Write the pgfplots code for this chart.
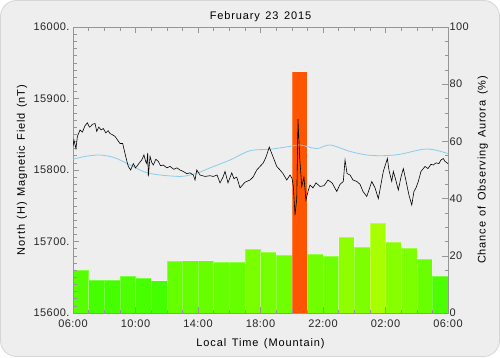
\documentclass[border=0pt]{standalone}
\usepackage{fontspec}
\setmainfont{Liberation Sans}
\newfontfamily\lbl{Liberation Sans}[LetterSpace=8, WordSpace=1.4]
\usepackage{pgfplots}
\pgfplotsset{compat=1.18}
\definecolor{panel}{RGB}{238,238,238}
\definecolor{panelborder}{RGB}{214,214,214}
\definecolor{axgray}{RGB}{150,150,150}
\definecolor{quiet}{RGB}{135,206,235}
\newcommand{\mybar}[3]{\addplot[ybar, bar width=1, bar shift=0, fill={rgb,255:red,#3;green,255;blue,0}, draw=white, draw opacity=0.25, line width=0.4pt] coordinates {(#1,#2)};}
\begin{document}
\begin{tikzpicture}[x=1pt,y=1pt]
\fill[white] (0,0) rectangle (500,357);
\draw[fill=panel, draw=panelborder, line width=0.8pt, rounded corners=16pt] (0.5,0.5) rectangle (499.5,356.5);
\pgfplotsset{
  every axis/.append style={
    font=\fontsize{11}{13}\selectfont,
    /pgf/number format/assume math mode=true,
    axis line style={axgray},
    every tick/.style={axgray, line width=0.5pt},
    tick align=inside,
    major tick length=6pt,
    minor tick length=3.5pt,
    tick label style={text=black!85, font=\fontsize{11}{13}\selectfont\addfontfeature{LetterSpace=4}},
  }
}
% bars: chance of aurora (right axis)
\begin{axis}[
  at={(73pt,44pt)}, anchor=south west, scale only axis,
  width=375pt, height=286pt,
  xmin=0, xmax=24, ymin=0, ymax=100,
  hide x axis,
  axis y line*=right,
  ytick={0,20,40,60,80,100},
  minor ytick={5,10,15,25,30,35,45,50,55,65,70,75,85,90,95},
  yticklabel style={anchor=west, xshift=-2pt},
  ylabel={\lbl Chance of Observing Aurora (\%)},
  every axis y label/.style={at={(axis description cs:1.093,0.5)}, rotate=90, anchor=center},
  clip=true,
]
\mybar{0.5}{15.0}{86}
\mybar{1.5}{11.5}{69}
\mybar{2.5}{11.5}{69}
\mybar{3.5}{13.0}{77}
\mybar{4.5}{12.1}{72}
\mybar{5.5}{11.3}{68}
\mybar{6.5}{18.2}{102}
\mybar{7.5}{18.3}{103}
\mybar{8.5}{18.3}{103}
\mybar{9.5}{17.9}{101}
\mybar{10.5}{17.9}{101}
\mybar{11.5}{22.3}{122}
\mybar{12.5}{21.4}{118}
\mybar{13.5}{20.3}{112}
\addplot[ybar, bar width=1, bar shift=0, fill={rgb,255:red,255;green,85;blue,0}, draw=white, draw opacity=0.25, line width=0.4pt] coordinates {(14.5,84.4)};
\mybar{15.5}{20.5}{113}
\mybar{16.5}{19.9}{111}
\mybar{17.5}{26.6}{143}
\mybar{18.5}{23.0}{126}
\mybar{19.5}{31.5}{167}
\mybar{20.5}{24.8}{135}
\mybar{21.5}{22.6}{124}
\mybar{22.5}{18.9}{106}
\mybar{23.5}{12.9}{76}
\end{axis}
% magnetic field (left axis)
\begin{axis}[
  at={(73pt,44pt)}, anchor=south west, scale only axis,
  width=375pt, height=286pt,
  xmin=0, xmax=24, ymin=15600, ymax=16000,
  scaled y ticks=false,
  axis background/.style={fill=none},
  xtick={0,4,8,12,16,20,24},
  xticklabels={06:00,10:00,14:00,18:00,22:00,02:00,06:00},
  minor xtick={1,2,3,5,6,7,9,10,11,13,14,15,17,18,19,21,22,23},
  xtick pos=both, xticklabel pos=lower,
  xticklabel style={yshift=-3.5pt},
  ytick={15600,15700,15800,15900,16000},
  yticklabels={15600.,15700.,15800.,15900.,16000.},
  minor y tick num=9,
  ytick pos=left,
  xlabel={\lbl Local Time (Mountain)},
  ylabel={\lbl North (H) Magnetic Field (nT)},
  every axis x label/.style={at={(axis description cs:0.5,-0.108)}, anchor=center},
  every axis y label/.style={at={(axis description cs:-0.136,0.5)}, rotate=90, anchor=center},
  title={\lbl February 23 2015},
  every axis title/.style={at={(axis description cs:0.5,1.035)}, anchor=center},
]
\addplot[quiet, line width=0.8pt, smooth] coordinates {
(0,15815) (0.77,15819) (1.73,15821) (2.69,15817) (3.65,15807) (4.61,15797)
(5.57,15793) (6.85,15791) (7.49,15793) (8.13,15797) (8.77,15803) (10.05,15814)
(11.33,15827) (12.61,15829) (13.89,15833) (14.53,15835) (15.60,15830) (16.45,15835)
(17.73,15826) (18.80,15821) (19.84,15820) (20.93,15822) (22.40,15829) (23.17,15828)
(24.00,15823)
};
\addplot[black, line width=0.6pt] coordinates {
(0.00,15833) (0.06,15842) (0.19,15830) (0.28,15847) (0.45,15856) (0.60,15853)
(0.77,15862) (0.92,15866) (1.05,15860) (1.13,15861) (1.25,15864) (1.41,15865)
(1.52,15854) (1.65,15860) (1.80,15856) (1.94,15858) (2.10,15852) (2.25,15855)
(2.37,15851) (2.55,15849) (2.69,15847) (2.85,15842) (3.01,15837) (3.18,15837)
(3.33,15823) (3.45,15812) (3.54,15805) (3.69,15800) (3.86,15809) (4.00,15803)
(4.08,15805) (4.25,15810) (4.40,15814) (4.54,15821) (4.65,15812) (4.72,15809)
(4.78,15824) (4.82,15791) (4.93,15819) (5.05,15810) (5.14,15807) (5.30,15815)
(5.46,15812) (5.60,15806) (5.78,15807) (6.00,15803) (6.21,15805) (6.45,15801)
(6.65,15803) (6.85,15800) (7.05,15798) (7.28,15795) (7.49,15796) (7.70,15793)
(7.81,15786) (7.92,15800) (8.13,15793) (8.45,15791) (8.77,15792) (8.98,15791)
(9.22,15793) (9.41,15782) (9.60,15790) (9.73,15798) (9.92,15782) (10.16,15796)
(10.30,15788) (10.48,15790) (10.69,15775) (11.01,15783) (11.33,15786) (11.52,15790)
(11.76,15800) (11.97,15805) (12.18,15810) (12.35,15818) (12.56,15832) (12.74,15822)
(13.04,15805) (13.25,15800) (13.44,15795) (13.68,15786) (13.89,15793) (14.02,15788)
(14.10,15777) (14.21,15737) (14.32,15760) (14.40,15871) (14.50,15820) (14.64,15777)
(14.78,15790) (14.91,15758) (15.04,15770) (15.17,15779) (15.36,15775) (15.55,15782)
(15.81,15777) (16.06,15778) (16.32,15786) (16.58,15782) (16.88,15770) (17.09,15780)
(17.30,15784) (17.41,15814) (17.54,15795) (17.73,15793) (17.92,15786) (18.16,15784)
(18.37,15780) (18.56,15770) (18.80,15763) (18.94,15772) (19.12,15784) (19.33,15775)
(19.54,15760) (19.71,15780) (19.86,15798) (20.12,15816) (20.22,15800) (20.40,15784)
(20.50,15798) (20.67,15785) (20.82,15772) (20.99,15790) (21.14,15802) (21.31,15785)
(21.50,15765) (21.68,15751) (21.82,15770) (21.95,15775) (22.10,15784) (22.27,15798)
(22.53,15805) (22.72,15802) (22.91,15808) (23.06,15807) (23.23,15810) (23.42,15809)
(23.55,15814) (23.70,15816) (23.81,15812) (24.00,15809)
};
\end{axis}
\end{tikzpicture}
\end{document}
